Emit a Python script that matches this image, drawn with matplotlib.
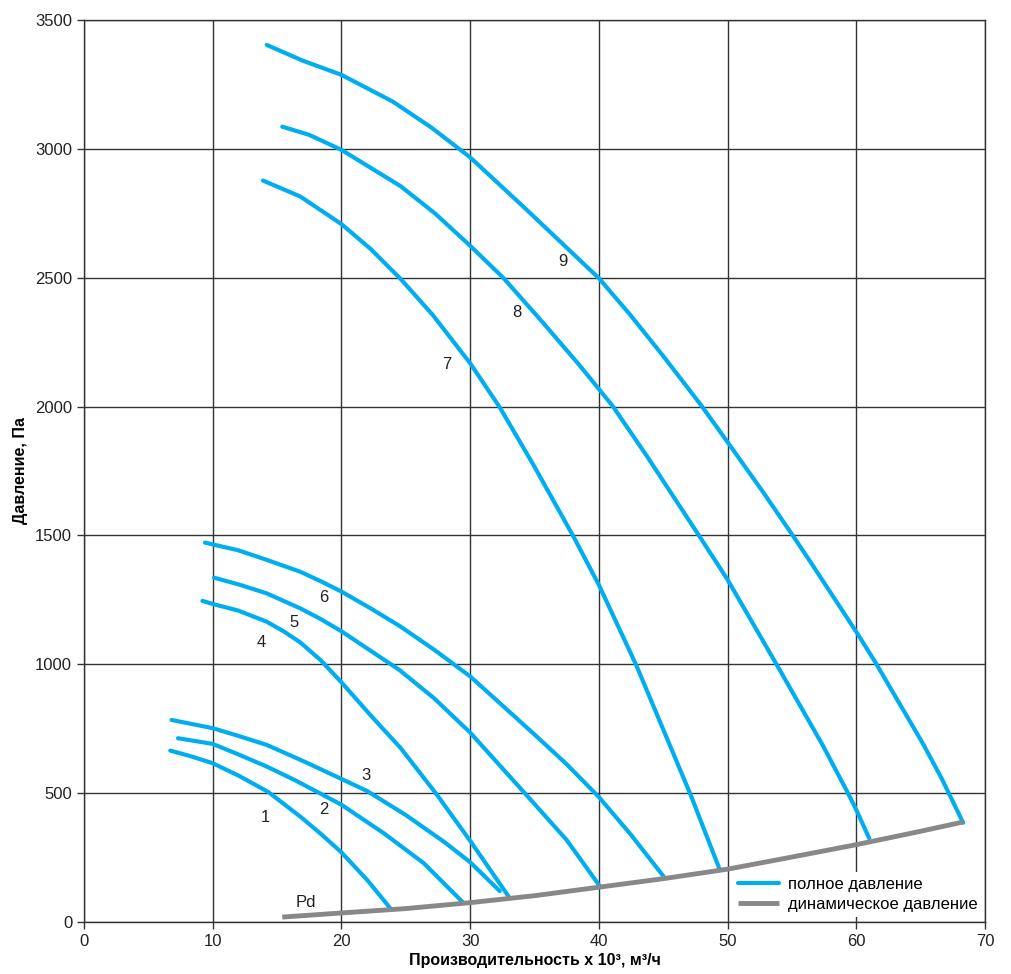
import matplotlib.pyplot as plt

plt.rcParams['font.family'] = ['Liberation Sans', 'DejaVu Sans']

# fan curves: flow (x 10^3 m3/h) and total pressure (Pa)
x1 = [6.7, 8.3, 10.0, 12.0, 14.3, 16.8, 18.4, 20.0, 22.0, 23.8]
y1 = [665, 643, 616, 568, 505, 409, 342, 270, 163, 53]
x2 = [7.3, 10.0, 12.0, 14.2, 16.4, 18.6, 20.0, 23.3, 26.4, 29.4]
y2 = [713, 691, 650, 603, 550, 492, 455, 344, 228, 78]
x3 = [6.8, 10.0, 12.0, 14.2, 17.0, 20.0, 22.0, 25.0, 28.0, 30.0, 32.3]
y3 = [784, 752, 722, 687, 625, 555, 508, 415, 310, 232, 120]
x4 = [9.2, 10.0, 12.0, 14.2, 15.5, 16.8, 18.4, 20.0, 22.3, 24.6, 27.4, 30.0, 33.0]
y4 = [1246, 1234, 1208, 1165, 1128, 1085, 1015, 930, 800, 675, 495, 315, 98]
x5 = [10.1, 12.0, 14.2, 16.8, 18.4, 20.0, 24.5, 27.2, 30.0, 34.6, 37.5, 40.1]
y5 = [1336, 1310, 1275, 1217, 1175, 1128, 978, 868, 735, 480, 318, 137]
x6 = [9.4, 12.0, 14.2, 16.8, 18.4, 20.0, 22.3, 24.6, 27.3, 30.0, 34.9, 37.5, 40.0, 42.5, 45.1]
y6 = [1472, 1442, 1405, 1359, 1322, 1282, 1216, 1146, 1053, 953, 732, 612, 485, 338, 172]
x7 = [13.9, 16.8, 20.0, 22.3, 24.6, 27.1, 30.0, 32.3, 34.9, 38.0, 40.0, 42.9, 47.1, 49.4]
y7 = [2877, 2815, 2708, 2610, 2495, 2355, 2168, 1997, 1775, 1498, 1308, 997, 497, 202]
x8 = [15.4, 17.5, 20.0, 24.6, 27.3, 30.0, 32.6, 35.7, 38.5, 40.0, 41.1, 43.7, 46.3, 47.9,
      49.2, 50.0, 53.8, 57.4, 59.3, 60.0, 61.0]
y8 = [3086, 3054, 2996, 2855, 2748, 2624, 2498, 2323, 2160, 2068, 2000, 1810, 1612, 1490,
      1390, 1328, 1000, 685, 505, 435, 325]
x9 = [14.2, 17.0, 20.0, 24.0, 27.0, 30.0, 34.4, 40.0, 42.4, 45.0, 47.9, 50.0, 52.8, 55.1,
      56.4, 60.1, 61.5, 65.2, 66.6, 68.3]
y9 = [3403, 3342, 3287, 3183, 3082, 2967, 2763, 2498, 2358, 2196, 2008, 1862, 1665, 1497,
      1400, 1118, 1006, 690, 560, 385]
curves = [(x1, y1), (x2, y2), (x3, y3), (x4, y4), (x5, y5), (x6, y6), (x7, y7), (x8, y8), (x9, y9)]

# dynamic pressure
xpd = [15.4, 20, 25, 30, 35, 40, 45, 50, 55, 60, 65, 68.3]
ypd = [19, 35, 52, 75, 102, 135, 168, 205, 252, 300, 352, 388]

# curve number labels
lab_txt = ['1', '2', '3', '4', '5', '6', '7', '8', '9', 'Pd']
lab_x = [14.1, 18.6, 21.9, 13.8, 16.3, 18.6, 28.2, 33.6, 37.2, 17.2]
lab_y = [404, 435, 567, 1083, 1164, 1261, 2165, 2363, 2561, 74]

blue = '#00aeef'
grey = '#88888a'
dark = '#333333'

fig = plt.figure(figsize=(10.11, 9.74), dpi=100)
ax = fig.add_axes([0.0831, 0.0534, 0.8912, 0.9261])

for i, (cx, cy) in enumerate(curves):
    ax.plot(cx, cy, color=blue, lw=3.0, solid_capstyle='round', solid_joinstyle='round',
            label='полное давление' if i == 0 else None, zorder=3)
ax.plot(xpd, ypd, color=grey, lw=3.5, solid_capstyle='butt', label='динамическое давление', zorder=3)

for t, lx, ly in zip(lab_txt, lab_x, lab_y):
    ax.text(lx, ly, t, fontsize=12, ha='center', va='center', color='#222222', zorder=4)

ax.set_xlim(0, 70)
ax.set_ylim(0, 3500)
ax.set_xticks(range(0, 71, 10))
ax.set_yticks(range(0, 3501, 500))
ax.grid(True, color=dark, lw=1.0)
ax.set_axisbelow(True)
for s in ax.spines.values():
    s.set_color(dark)
    s.set_linewidth(1.0)
ax.tick_params(direction='out', length=5, width=1, color=dark, labelsize=12, labelcolor='#222222')

ax.set_xlabel('Производительность x 10³, м³/ч', fontsize=11.5, fontweight='bold', labelpad=3)
ax.set_ylabel('Давление, Па', fontsize=11.5, fontweight='bold', labelpad=5)

leg = ax.legend(loc='lower right', bbox_to_anchor=(0.997, 0.006), borderaxespad=0, frameon=True,
                fontsize=12, handlelength=2.5, handletextpad=0.5, labelspacing=0.3, borderpad=0.3)
leg.get_frame().set_facecolor('white')
leg.get_frame().set_edgecolor('none')
leg.get_frame().set_alpha(1)
leg.get_frame().set_boxstyle('square', pad=0)

fig.savefig('out.png', dpi=100)
